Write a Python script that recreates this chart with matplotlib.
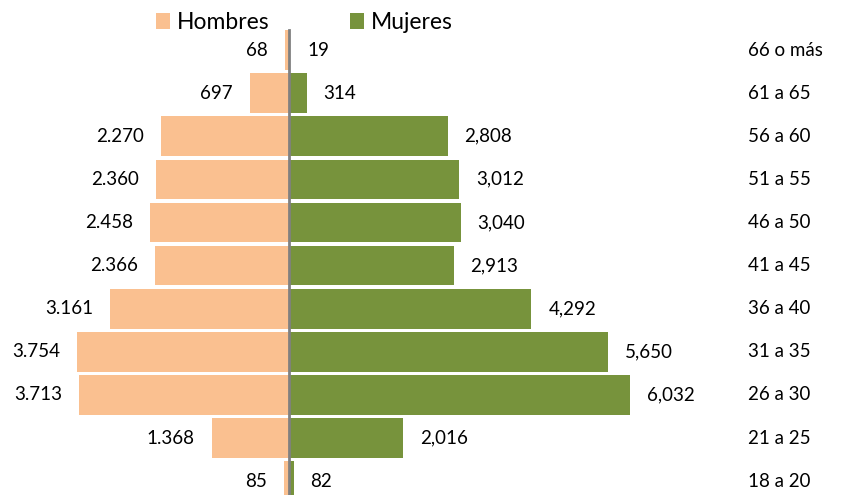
import numpy as np
import matplotlib.pyplot as plt

plt.rcParams['font.family'] = ['Lato', 'DejaVu Sans']

grupos = ['18 a 20', '21 a 25', '26 a 30', '31 a 35', '36 a 40', '41 a 45',
          '46 a 50', '51 a 55', '56 a 60', '61 a 65', '66 o más']
hombres = [85, 1368, 3713, 3754, 3161, 2366, 2458, 2360, 2270, 697, 68]
mujeres = [82, 2016, 6032, 5650, 4292, 2913, 3040, 3012, 2808, 314, 19]

c_h = '#FAC090'
c_m = '#77933C'


def main():
    fig = plt.figure(figsize=(8.41, 4.95), dpi=100)
    ax = fig.add_axes([0, 0, 1, 1])
    y = np.arange(len(grupos))
    bh = ax.barh(y, [-v for v in hombres], height=0.92, color=c_h, label='Hombres')
    bm = ax.barh(y, mujeres, height=0.92, color=c_m, label='Mujeres')
    ax.plot([0, 0], [-0.46, len(grupos) - 1 + 0.46], color='#808080', lw=2, zorder=3)

    off = 300
    fs = 13.5
    for i in range(len(grupos)):
        ax.text(-hombres[i] - off, y[i], '{:,}'.format(hombres[i]).replace(',', '.'),
                ha='right', va='center', fontsize=fs)
        ax.text(mujeres[i] + off, y[i], '{:,}'.format(mujeres[i]),
                ha='left', va='center', fontsize=fs)
        ax.text(8130, y[i], grupos[i], ha='left', va='center', fontsize=fs)

    ax.set_xlim(-5115, 9770)
    ax.set_ylim(-0.32, 11.16)
    ax.axis('off')
    fig.legend(handles=[bh, bm], loc='center', bbox_to_anchor=(0.362, 0.955), ncol=2,
               frameon=False, fontsize=16.5, handlelength=0.6, handleheight=0.7,
               handletextpad=0.3, columnspacing=3.5)
    fig.savefig('out.png', dpi=100)


if __name__ == "__main__":
    main()
